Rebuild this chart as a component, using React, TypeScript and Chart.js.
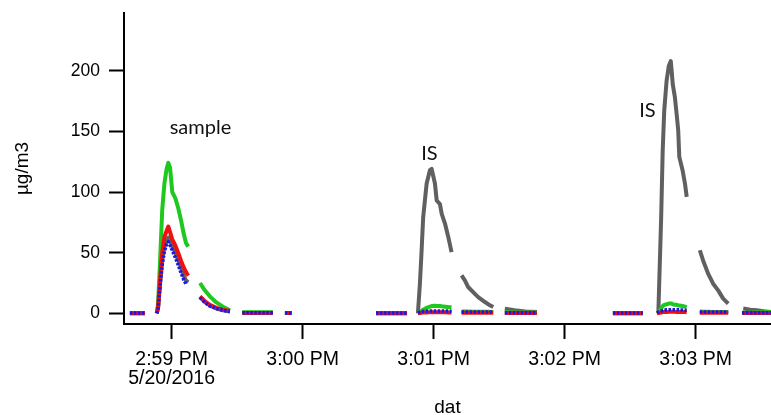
import React, { useEffect, useRef } from "react";
import { Chart, registerables } from "chart.js";

Chart.register(...registerables);

// time in seconds after 2:59:00 PM (5/20/2016); null rows break the trace
const times = [
  -19.1, -17, -14.5, -12.2, -9.5,
  -6.8, -6.2, -5.4, -4.3, -3.3, -2.3, -1.5, -0.7, 0.3, 1.7, 3.0, 4.4, 5.5, 6.6, 7.6, 10,
  13.0, 15.2, 17.5, 20.5, 23.5, 26.7, 29.5,
  32.4, 37, 42, 46.4, 49,
  51.9, 55.1, 75,
  93.6, 98, 103, 107.8, 110.3,
  112.8, 113.7, 114.5, 115.2, 116.8, 118.3, 119.1, 120.6, 121.4, 122.9, 123.7, 125.2, 126.7, 128.2, 130.5,
  132.8, 134.3, 135.8, 138.1, 140.4, 143.5, 145.8, 147.3, 150,
  152.6, 157, 162, 167.3, 185,
  202.1, 206.6, 211.2, 215.8, 219,
  222.3, 222.9, 224.2, 224.9, 225.6, 226.7, 227.7, 228.6, 229.0, 229.5, 230.5, 231.3, 232.0, 232.5, 234.0, 235.1, 235.9, 239,
  241.9, 243.4, 245.7, 248.0, 250.3, 252.6, 254.9, 258,
  261.2, 261.8, 265, 268, 271, 274.5,
];

const grayIS = [
  0, 0, 0, 0, null,
  0, 4, 22, 44, 55, 60, 62.5, 60, 55, 50, 44, 37, 31, 27, 25.5, null,
  13.5, 9.5, 6.5, 4, 2.5, 1.5, null,
  0.5, 0.5, 0.5, 0.5, null,
  0.3, 0.3, null,
  0, 0, 0, 0, null,
  0, 24, 52, 79, 107, 118, 119, 107, 93, 90, 82, 74, 63, 50.5, null,
  31.3, 27.2, 21.7, 17.5, 13.4, 9.3, 6.6, 5.2, null,
  3.8, 2.5, 1.5, 1, null,
  0, 0, 0, 0, null,
  null, 0, 79, 134, 167, 192, 204, 208, 200, 189, 178, 164, 151, 129, 118, 107, 96, null,
  52, 43.6, 32.7, 24.4, 18.9, 12.1, 8, null,
  null, 3.9, 3, 2.5, 1.8, 1.1,
];

const greenSeries = [
  0.3, 0.3, 0.3, 0.3, null,
  0, 8, 38, 85, 107, 119, 124, 120, 100, 95, 87, 76, 66, 58, 55, null,
  25, 19, 14, 9, 5.5, 2.5, null,
  0.8, 0.8, 0.8, 0.8, null,
  0.3, 0.3, null,
  0.3, 0.3, 0.3, 0.3, null,
  0.5, 1, 2, 3, 4.5, 5.5, 6, 6.3, 6, 6, 5.8, 5.5, 5.2, 5, null,
  1.5, 1.5, 1.5, 1.3, 1.2, 1.2, 1.2, 1, null,
  0.8, 0.6, 0.5, 0.5, null,
  0.3, 0.3, 0.3, 0.3, null,
  0, 0.5, 4, 6, 7, 7.5, 8, 8, 8, 7.5, 7, 7, 6.5, 6.5, 6, 5.5, 5, null,
  1.5, 1.3, 1.2, 1, 1, 1, 1, null,
  0.5, 0.5, 0.5, 0.6, 0.8, 1,
];

const redSeries = [
  0, 0, 0, 0, null,
  0, 5, 25, 50, 63, 68, 71.5, 67, 61, 56, 50, 43, 38, 34, 31, null,
  14, 10, 7, 4.5, 3, 2, null,
  0.3, 0.3, 0.3, 0.3, null,
  0.2, 0.2, null,
  0, 0, 0, 0, null,
  0, 0.3, 0.5, 0.6, 0.7, 0.8, 0.8, 0.8, 0.8, 0.8, 0.8, 0.8, 0.7, 0.6, null,
  0.5, 0.5, 0.5, 0.5, 0.5, 0.5, 0.5, 0.5, null,
  0.2, 0.2, 0.2, 0.2, null,
  0, 0, 0, 0, null,
  0, 0.3, 0.6, 1, 1, 1, 1.2, 1.2, 1.2, 1.2, 1.2, 1, 1, 1, 1, 1, 0.8, null,
  0.5, 0.5, 0.5, 0.5, 0.5, 0.5, 0.5, null,
  0.2, 0.2, 0.2, 0.2, 0.2, 0.2,
];

const blueSeries = [
  0.2, 0.2, 0.2, 0.2, null,
  0, 3, 20, 40, 51, 57, 59, 56, 52, 46, 40, 33, 28, 24, null, null,
  13, 9, 6, 4, 2.5, 1.5, null,
  0.5, 0.5, 0.5, 0.5, null,
  0.3, 0.3, null,
  0.2, 0.2, 0.2, 0.2, null,
  0.5, 1, 1.3, 1.6, 1.8, 2, 2, 2, 2, 2, 2, 2, 2, 1.8, null,
  1, 1, 1, 1, 1, 1, 1, 1, null,
  0.5, 0.5, 0.5, 0.5, null,
  0.2, 0.2, 0.2, 0.2, null,
  0.5, 1, 1.8, 2.3, 2.5, 3, 3, 3, 3, 3, 3, 3, 3, 2.8, 2.8, 2.5, 2.5, null,
  1, 1, 1, 1, 1, 1, 1, null,
  0.5, 0.5, 0.5, 0.5, 0.5, 0.5,
];

const xTickValues = [0, 60, 120, 180, 240];
const xTickLabels: (string | string[])[] = [
  ["2:59 PM", "5/20/2016"],
  "3:00 PM",
  "3:01 PM",
  "3:02 PM",
  "3:03 PM",
];
const yTickValues = [0, 50, 100, 150, 200];

const noteTexts = ["sample", "IS", "IS"];
const noteX = [13.2, 118.1, 217.9];
const noteY = [147.8, 126.7, 162];

const notesPlugin = {
  id: "notes",
  afterDatasetsDraw(chart: any) {
    const { ctx, scales } = chart;
    ctx.save();
    ctx.font = "20px Lato";
    ctx.fillStyle = "#111";
    ctx.textAlign = "center";
    ctx.textBaseline = "alphabetic";
    noteTexts.forEach((t, i) => {
      ctx.fillText(t, scales.x.getPixelForValue(noteX[i]), scales.y.getPixelForValue(noteY[i]));
    });
    ctx.restore();
  },
};

export default function App() {
  const ref = useRef<HTMLCanvasElement>(null);
  useEffect(() => {
    const canvas = ref.current!;
    const mk = (vals: (number | null)[]) => times.map((t, i) => ({ x: t, y: vals[i] }));
    const chart = new Chart(canvas, {
      type: "line",
      data: {
        datasets: [
          { label: "blue", data: mk(blueSeries) as any, borderColor: "#1818e8", borderWidth: 3.5, borderDash: [2.5, 1.5] },
          { label: "red", data: mk(redSeries) as any, borderColor: "#f01010", borderWidth: 4 },
          { label: "green", data: mk(greenSeries) as any, borderColor: "#1ec81e", borderWidth: 4 },
          { label: "gray", data: mk(grayIS) as any, borderColor: "#606060", borderWidth: 4 },
        ],
      },
      options: {
        animation: false,
        responsive: false,
        events: [],
        layout: { padding: { top: 13, left: 0, right: 0, bottom: 0 } },
        plugins: { legend: { display: false }, tooltip: { enabled: false } },
        elements: {
          line: { tension: 0, borderJoinStyle: "round", fill: false },
          point: { radius: 0, hoverRadius: 0 },
        },
        scales: {
          x: {
            type: "linear",
            min: -21.8,
            max: 274.5,
            afterBuildTicks: (s: any) => { s.ticks = xTickValues.map((v) => ({ value: v })); },
            afterFit: (s: any) => { s.height = 91; s.paddingLeft = 0; s.paddingRight = 0; },
            grid: { display: true, drawOnChartArea: false, drawTicks: true, tickLength: 15, tickWidth: 2, tickColor: "#000" },
            border: { display: true, color: "#000", width: 2 },
            ticks: {
              autoSkip: false,
              maxRotation: 0,
              color: "#000",
              padding: 10.5,
              font: { family: "Liberation Sans", size: 19.5, lineHeight: 1 },
              callback: (v: any) => { const i = xTickValues.indexOf(Number(v)); return i >= 0 ? xTickLabels[i] : ""; },
            },
            title: { display: true, text: "dat", color: "#000", font: { family: "Liberation Sans", size: 19, lineHeight: 0.8 }, padding: { top: 0, bottom: 0 } },
          },
          y: {
            type: "linear",
            min: -8.8,
            max: 247.6,
            afterBuildTicks: (s: any) => { s.ticks = yTickValues.map((v) => ({ value: v })); },
            afterFit: (s: any) => { s.width = 124; s.paddingTop = 0; s.paddingBottom = 0; },
            grid: { display: true, drawOnChartArea: false, drawTicks: true, tickLength: 15, tickWidth: 2, tickColor: "#000" },
            border: { display: true, color: "#000", width: 2 },
            ticks: { color: "#000", padding: 9, font: { family: "Liberation Sans", size: 17.5 } },
            title: { display: true, text: "µg/m3", color: "#000", font: { family: "Liberation Sans", size: 19, lineHeight: 1.2 }, padding: { top: 11, bottom: 0 } },
          },
        },
      },
      plugins: [notesPlugin],
    });
    return () => chart.destroy();
  }, []);
  return (
    <div style={{ position: "fixed", left: 0, top: 0, width: 771, height: 415, background: "#fff" }}>
      <canvas ref={ref} width={771} height={415} style={{ display: "block" }} />
    </div>
  );
}
